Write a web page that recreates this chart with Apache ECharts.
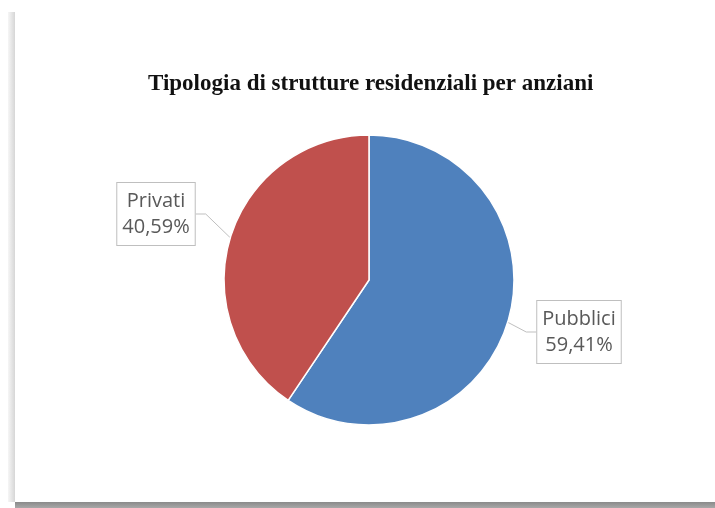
<!DOCTYPE html>
<html>
<head>
<meta charset="utf-8">
<script src="https://cdn.jsdelivr.net/npm/echarts@6/dist/echarts.min.js"></script>
<style>
  html, body { margin: 0; padding: 0; background: #ffffff; }
  #chart { width: 715px; height: 508px; }
</style>
</head>
<body>
<div id="chart"></div>
<script>
// Chart content
const chartTitle = 'Tipologia di strutture residenziali per anziani';
const categories = ['Pubblici', 'Privati'];
const shares = [59.41, 40.59];
const sliceColors = ['#4F81BD', '#C0504D'];

// Callout centres for the two labels (pixels)
const labelCentres = [[579, 332], [156, 214]];

const chart = echarts.init(document.getElementById('chart'), null, { renderer: 'canvas' });

const fmt = v => v.toFixed(2).replace('.', ',') + '%';

chart.setOption({
  backgroundColor: '#ffffff',
  animation: false,
  title: {
    text: chartTitle,
    left: 143,
    top: 68,
    textStyle: {
      fontFamily: 'Liberation Serif',
      fontWeight: 'bold',
      fontSize: 23,
      color: '#111111'
    }
  },
  graphic: [
    // left edge of the sheet
    {
      type: 'rect',
      shape: { x: 8, y: 12, width: 7, height: 490 },
      style: {
        fill: new echarts.graphic.LinearGradient(0, 0, 1, 0, [
          { offset: 0, color: '#f6f6f6' },
          { offset: 0.5, color: '#e6e6e6' },
          { offset: 1, color: '#d6d6d6' }
        ])
      },
      silent: true
    },
    // bottom shadow of the sheet
    {
      type: 'rect',
      shape: { x: 15, y: 502, width: 700, height: 6 },
      style: {
        fill: new echarts.graphic.LinearGradient(0, 0, 0, 1, [
          { offset: 0, color: '#8a8a8a' },
          { offset: 1, color: '#a8a8a8' }
        ])
      },
      silent: true
    }
  ],
  series: [{
    type: 'pie',
    center: [369, 280],
    radius: [0, 145],
    startAngle: 90,
    clockwise: true,
    itemStyle: { borderColor: '#ffffff', borderWidth: 1.5 },
    label: {
      show: true,
      position: 'outside',
      formatter: p => p.name + '\n' + fmt(p.value),
      fontFamily: 'Open Sans',
      fontSize: 20,
      lineHeight: 26,
      color: '#595959',
      backgroundColor: '#ffffff',
      borderColor: '#BFBFBF',
      borderWidth: 1,
      padding: [5, 5, 5, 5],
      align: 'center'
    },
    labelLine: {
      show: true,
      length: 10,
      length2: 10,
      lineStyle: { color: '#BFBFBF', width: 1 }
    },
    labelLayout: function (params) {
      const c = labelCentres[params.dataIndex];
      return { x: c[0], y: c[1], align: 'center', verticalAlign: 'middle' };
    },
    data: categories.map((name, i) => ({
      name: name,
      value: shares[i],
      itemStyle: { color: sliceColors[i] }
    }))
  }]
});
</script>
</body>
</html>
